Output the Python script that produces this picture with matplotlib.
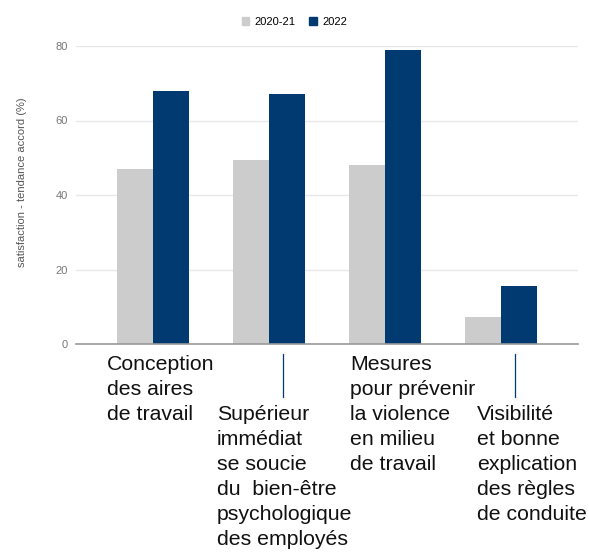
import numpy as np
import matplotlib
matplotlib.use("Agg")
import matplotlib.pyplot as plt
from matplotlib.patches import Patch
import matplotlib.transforms as mtransforms

plt.rcParams['font.family'] = ['Liberation Sans', 'DejaVu Sans']

# -----------------------------
# DATA
# -----------------------------

categories = [
    "Conception\ndes aires\nde travail",
    "Supérieur\nimmédiat\nse soucie\ndu  bien-être\npsychologique\ndes employés",
    "Mesures\npour prévenir\nla violence\nen milieu\nde travail",
    "Visibilité\net bonne\nexplication\ndes règles\nde conduite",
]
series_names = ["2020-21", "2022"]
values_2020_21 = [47, 49.4, 48, 7.3]
values_2022 = [68, 67, 79, 15.7]
y_ticks = [0, 20, 40, 60, 80]

# -----------------------------
# STYLE / LAYOUT
# -----------------------------

GREY = "#cccccc"
NAVY = "#003a70"
bar_w = 0.31

# label placement (figure pixels): left x, top y ; staggered rows
label_x_px = [107, 217, 350, 477]
label_top_px = [355, 405, 355, 405]
W, H = 589, 552

fig = plt.figure(figsize=(W / 100, H / 100), dpi=100)
ax = fig.add_axes([76 / W, 1 - 344 / H, (578 - 76) / W, (344 - 46) / H])

x = np.arange(len(categories))
ax.bar(x - bar_w / 2, values_2020_21, bar_w, color=GREY, zorder=3)
ax.bar(x + bar_w / 2, values_2022, bar_w, color=NAVY, zorder=3)

ax.set_xlim(-0.664, len(categories) - 1 + 0.664)
ax.set_ylim(0, 80)
ax.set_yticks(y_ticks)
ax.set_yticklabels([str(t) for t in y_ticks], fontsize=8, color="#777777")
ax.tick_params(axis="y", length=0, pad=6)
ax.set_xticks([])

ax.grid(axis="y", color="#e8e8e8", linewidth=1, zorder=0)
for side in ["top", "right", "left"]:
    ax.spines[side].set_visible(False)
ax.spines["bottom"].set_color("#999999")
ax.spines["bottom"].set_linewidth(1.2)
ax.spines["bottom"].set_zorder(4)

fig.text(22 / W, 1 - 182 / H, "satisfaction - tendance accord (%)",
         rotation=90, fontsize=8, color="#555555", ha="center", va="center")

# category labels
for lab, lx, ly in zip(categories, label_x_px, label_top_px):
    fig.text(lx / W, 1 - ly / H, lab, fontsize=15.3, color="#111111",
             ha="left", va="top", linespacing=1.4)

# connector lines for the lower row of labels
trans = mtransforms.blended_transform_factory(ax.transData, fig.transFigure)
for i in [1, 3]:
    ax.plot([i + 0.12, i + 0.12], [1 - 354 / H, 1 - 397 / H], transform=trans,
            color=NAVY, linewidth=0.9, clip_on=False)

handles = [Patch(color=GREY, label=series_names[0]),
           Patch(color=NAVY, label=series_names[1])]
fig.legend(handles=handles, loc="center", bbox_to_anchor=(0.5, 1 - 22 / H),
           ncol=2, frameon=False, fontsize=8, handlelength=0.7, handleheight=0.7,
           handletextpad=0.5, columnspacing=1.2)

fig.savefig("out.png", dpi=100)
